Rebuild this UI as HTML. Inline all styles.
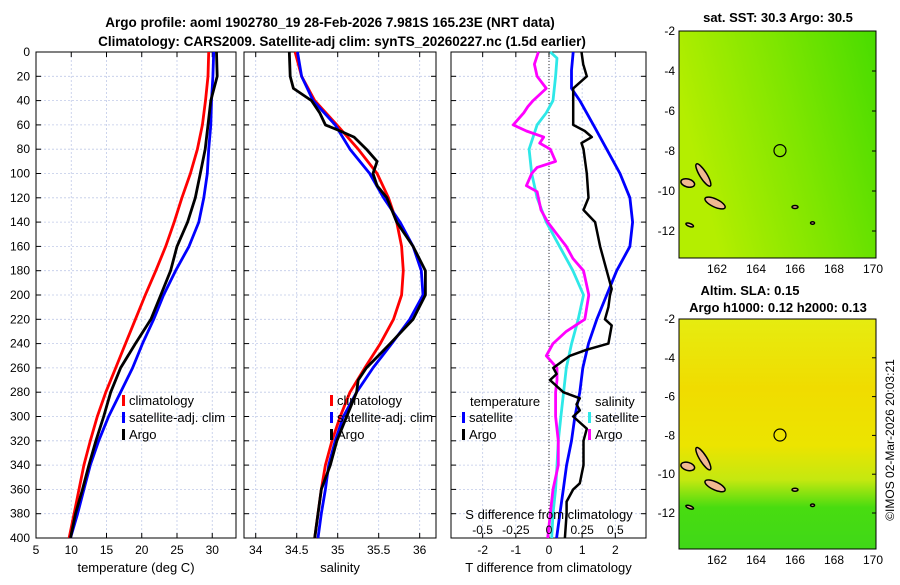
<!DOCTYPE html>
<html><head><meta charset="utf-8"><style>
body{margin:0;background:#fff;width:900px;height:580px;overflow:hidden}
svg{font-family:"Liberation Sans","DejaVu Sans",sans-serif}
</style></head><body>
<svg id="c" width="900" height="580" xmlns="http://www.w3.org/2000/svg">
<text x="330" y="27" font-size="13.5" font-weight="bold" text-anchor="middle">Argo profile: aoml 1902780_19 28-Feb-2026 7.981S 165.23E (NRT data)</text>
<text x="342" y="46" font-size="13.5" font-weight="bold" text-anchor="middle">Climatology: CARS2009. Satellite-adj clim: synTS_20260227.nc (1.5d earlier)</text>
<g id="maps"></g>
<text transform="translate(894,440) rotate(-90)" font-size="12" text-anchor="middle">©IMOS 02-Mar-2026 20:03:21</text>
</svg>
<script>
const depths=[0,20,40,60,80,100,120,140,160,180,200,220,240,260,280,300,320,340,360,380,400];
const tempClim=[29.5,29.4,29.05,28.6,27.9,26.9,25.7,24.6,23.4,22.0,20.5,19.1,17.7,16.3,14.9,13.7,12.7,11.8,11.1,10.4,9.7];
const tempSat=[30.2,30.1,29.9,29.8,29.5,29.3,28.8,28.1,26.7,24.8,23.1,21.7,20.1,18.7,17.0,15.3,13.9,12.7,11.8,10.9,9.9];
const tempArgo=[30.6,30.7,29.8,29.4,29.0,28.3,27.6,26.5,25.0,24.1,22.7,21.3,19.1,17.0,15.6,14.6,13.5,12.5,11.6,10.6,9.9];
const salClim=[34.48,34.56,34.72,34.99,35.25,35.48,35.62,35.72,35.78,35.8,35.78,35.68,35.52,35.33,35.15,35.03,34.93,34.85,34.8,34.76,34.72];
const salSat=[34.51,34.56,34.7,34.97,35.15,35.39,35.56,35.76,35.92,36.02,36.04,35.88,35.66,35.43,35.23,35.07,34.97,34.89,34.85,34.8,34.76];
const salArgoDepths=[0,20,30,40,50,60,65,70,80,90,100,110,120,140,160,180,200,220,240,260,270,280,300,320,340,360,380,400];
const salArgo=[34.41,34.42,34.46,34.68,34.78,34.85,35.03,35.2,35.35,35.48,35.43,35.48,35.6,35.72,35.92,36.07,36.07,35.92,35.64,35.35,35.25,35.23,35.11,34.99,34.91,34.8,34.76,34.72];
const dTDepths=[0,10,20,30,40,50,60,65,70,75,80,100,120,130,140,160,180,195,200,210,220,225,240,245,250,260,265,270,280,285,290,295,300,310,320,340,355,360,370,380,400];
const dTempArgo=[0.98,1.03,1.14,0.73,0.73,0.73,0.73,1.08,1.29,0.98,1.04,1.14,1.19,1.04,1.39,1.54,1.74,1.89,1.84,1.79,1.69,1.89,1.79,1.14,0.63,0.13,0.23,0.03,0.43,0.93,0.83,0.93,0.73,1.14,1.04,1.04,0.93,0.73,0.53,0.53,0.48];
const dTSatDepths=[0,15,30,40,60,80,100,120,140,160,180,200,220,240,260,280,300,320,340,360,380,400];
const dTempSat=[0.73,0.68,0.68,0.93,1.34,1.74,2.14,2.44,2.52,2.44,2.04,1.74,1.44,1.19,1.02,0.93,0.78,0.68,0.53,0.43,0.33,0.23];
const sSatDepths=[0,5,20,40,50,60,80,100,120,140,160,180,200,220,240,260,280,300,320,340,360,380,400];
const dSalSat=[0.01,0.06,0.05,0.03,-0.02,-0.09,-0.15,-0.13,-0.09,-0.02,0.08,0.18,0.26,0.22,0.17,0.13,0.11,0.09,0.07,0.06,0.05,0.03,0.02];
const sArgoDepths=[0,10,20,30,40,45,50,60,65,70,75,80,90,95,100,110,115,120,130,140,150,160,170,180,190,200,220,230,240,250,260,270,280,300,320,340,360,380,400];
const dSalArgo=[-0.08,-0.11,-0.09,-0.02,-0.12,-0.16,-0.19,-0.27,-0.17,-0.04,-0.07,0.01,0.05,-0.09,-0.13,-0.17,-0.09,-0.08,-0.06,-0.01,0.06,0.13,0.18,0.26,0.28,0.3,0.27,0.13,0.03,-0.02,0.06,0.06,0.05,0.05,0.07,0.07,0.03,0.01,-0.01];
const depthTicks=[0,20,40,60,80,100,120,140,160,180,200,220,240,260,280,300,320,340,360,380,400];
const tTicks=[5,10,15,20,25,30], sTicks=[34,34.5,35,35.5,36], dTicks=[-2,-1,0,1,2];
const sdTicks=[-0.5,-0.25,0,0.25,0.5], sdLabels=['-0.5','-0.25','0','0.25','0.5'];

const NS='http://www.w3.org/2000/svg', svg=document.getElementById('c');
function mk(t,a,p){const e=document.createElementNS(NS,t);for(const k in a)e.setAttribute(k,a[k]);(p||svg).appendChild(e);return e;}
const Y0=52,Y1=538; const yD=d=>Y0+d/400*(Y1-Y0);
function panel(x0,x1,xmin,xmax,ticks,labels,title,name){
  const g=mk('g',{});
  const xs=v=>x0+(v-xmin)/(xmax-xmin)*(x1-x0);
  depthTicks.forEach(d=>{const l=mk('line',{x1:x0,x2:x1,y1:yD(d),y2:yD(d),stroke:'#c0cae8','stroke-dasharray':'2,2','stroke-width':0.8},g);});
  ticks.forEach((v,i)=>{const l=mk('line',{x1:xs(v),x2:xs(v),y1:Y0,y2:Y1,stroke:'#c0cae8','stroke-dasharray':'2,2','stroke-width':0.8},g);
    mk('line',{x1:xs(v),x2:xs(v),y1:Y1,y2:Y1-5,stroke:'#000'},g);mk('line',{x1:xs(v),x2:xs(v),y1:Y0,y2:Y0+5,stroke:'#000'},g);
    const t=mk('text',{x:xs(v),y:Y1+16,'font-size':12,'text-anchor':'middle'},g);t.textContent=labels?labels[i]:v;});
  depthTicks.forEach(d=>{mk('line',{x1:x0,x2:x0+5,y1:yD(d),y2:yD(d),stroke:'#000'},g);mk('line',{x1:x1,x2:x1-5,y1:yD(d),y2:yD(d),stroke:'#000'},g);});
  const r=mk('rect',{x:x0,y:Y0,width:x1-x0,height:Y1-Y0,fill:'none',stroke:'#000'},g);
  const tt=mk('text',{x:(x0+x1)/2,y:572,'font-size':13,'text-anchor':'middle'},g);tt.textContent=title;
  return {g,xs};
}
function line(p,vals,ds,color,name,w){
  const pts=vals.map((v,i)=>p.xs(v).toFixed(1)+','+yD(ds[i]).toFixed(1)).join(' ');
  const l=mk('polyline',{points:pts,fill:'none',stroke:color,'stroke-width':w||2.8,'stroke-linejoin':'round'},p.g);
  
}
function leg(g,x,y,color,txt,name){mk('rect',{x:x,y:y-10,width:3,height:11,fill:color},g);const t=mk('text',{x:x+7,y:y,'font-size':13},g);t.textContent=txt;}

depthTicks.forEach(d=>{const t=mk('text',{x:30,y:yD(d)+4,'font-size':12,'text-anchor':'end'});t.textContent=d;});

const p1=panel(36,236,5,33.37,tTicks,null,'temperature (deg C)','temperature-panel');
line(p1,tempClim,depths,'#f00','temp-climatology-line');
line(p1,tempSat,depths,'#00f','temp-satellite-line');
line(p1,tempArgo,depths,'#000','temp-argo-line');
leg(p1.g,122,405,'#f00','climatology','legend-climatology');
leg(p1.g,122,422,'#00f','satellite-adj. clim','legend-satellite');
leg(p1.g,122,439,'#000','Argo','legend-argo');

const p2=panel(244,436,33.857,36.199,sTicks,null,'salinity','salinity-panel');
line(p2,salClim,depths,'#f00','sal-climatology-line');
line(p2,salSat,depths,'#00f','sal-satellite-line');
line(p2,salArgo,salArgoDepths,'#000','sal-argo-line');
leg(p2.g,330,405,'#f00','climatology','legend-climatology');
leg(p2.g,330,422,'#00f','satellite-adj. clim','legend-satellite');
leg(p2.g,330,439,'#000','Argo','legend-argo');

const p3=panel(451,646,-2.955,2.925,dTicks,null,'T difference from climatology','difference-panel');
mk('line',{x1:549,x2:549,y1:Y0,y2:Y1,stroke:'#333','stroke-dasharray':'1,2'},p3.g);
const xsS=v=>549+v*132.7;
const pS={g:p3.g,xs:xsS};
line(pS,dSalSat,sSatDepths,'#2ee8e8','sal-diff-satellite-line');
line(pS,dSalArgo,sArgoDepths,'#f0f','sal-diff-argo-line');
line(p3,dTempSat,dTSatDepths,'#00f','temp-diff-satellite-line');
line(p3,dTempArgo,dTDepths,'#000','temp-diff-argo-line',2.5);
[['temperature',470,406],['salinity',595,406]].forEach(a=>{const t=mk('text',{x:a[1],y:a[2],'font-size':13},p3.g);t.textContent=a[0];});
leg(p3.g,462,422,'#00f','satellite','legend-temp-satellite');
leg(p3.g,462,439,'#000','Argo','legend-temp-argo');
leg(p3.g,588,422,'#2ee8e8','satellite','legend-sal-satellite');
leg(p3.g,588,439,'#f0f','Argo','legend-sal-argo');
{const t=mk('text',{x:549,y:519,'font-size':13,'text-anchor':'middle'},p3.g);t.textContent='S difference from climatology';}
sdTicks.forEach((v,i)=>{const t=mk('text',{x:xsS(v),y:534,'font-size':12,'text-anchor':'middle'},p3.g);t.textContent=sdLabels[i];});

// maps
const mg=document.getElementById('maps');
const defs=mk('defs',{},mg);
defs.innerHTML='<linearGradient id="g1" x1="0" y1="0.3" x2="1" y2="0"><stop offset="0" stop-color="#b4ee00"/><stop offset="0.5" stop-color="#80e600"/><stop offset="1" stop-color="#48dc00"/></linearGradient>'+
'<linearGradient id="g2" x1="0" y1="0" x2="0" y2="1"><stop offset="0" stop-color="#e6ec10"/><stop offset="0.3" stop-color="#f0dc00"/><stop offset="0.55" stop-color="#ece400"/><stop offset="0.7" stop-color="#c4e810"/><stop offset="0.82" stop-color="#48dc10"/><stop offset="1" stop-color="#40d818"/></linearGradient>';
function map(y0,y1,fill,latPx,title,name){
  const x0=679,x1=876,g=mk('g',{},mg);
  mk('rect',{x:x0,y:y0,width:x1-x0,height:y1-y0,fill:fill},g);
  const lon=v=>717+(v-162)*19.5, lat=v=>y0+(-2-v)*latPx;
  const isl=[[161.3,-9.2,13,3.5,58],[160.5,-9.6,7,4,15],[161.9,-10.6,11,4,25],[160.6,-11.7,4,1.5,20],[166,-10.8,3,1.5,0],[166.9,-11.6,2,1.2,0]];
  isl.forEach(a=>{const e=mk('ellipse',{cx:lon(a[0]),cy:lat(a[1]),rx:a[2],ry:a[3],fill:'#f0b890',stroke:'#000','stroke-width':1.5,transform:'rotate('+a[4]+' '+lon(a[0])+' '+lat(a[1])+')'},g);});
  const c=mk('circle',{cx:lon(165.23),cy:lat(-7.98),r:6,fill:'none',stroke:'#000','stroke-width':1.2},g);
  mk('rect',{x:x0,y:y0,width:x1-x0,height:y1-y0,fill:'none',stroke:'#000'},g);
  [-2,-4,-6,-8,-10,-12].forEach(v=>{const t=mk('text',{x:675,y:lat(v)+4,'font-size':12,'text-anchor':'end'},g);t.textContent=v;mk('line',{x1:x1,x2:x1-4,y1:lat(v),y2:lat(v),stroke:'#000'},g);});
  [162,164,166,168,170].forEach(v=>{const t=mk('text',{x:lon(v),y:y1+15,'font-size':12,'text-anchor':'middle'},g);t.textContent=v;});
  title.forEach((s,i)=>{const t=mk('text',{x:s[1],y:s[2],'font-size':13,'font-weight':'bold','text-anchor':'middle'},g);t.textContent=s[0];});
}
map(31,258,'url(#g1)',20,[['sat. SST: 30.3 Argo: 30.5',778,22]],'sst-map');
map(319,549,'url(#g2)',19.4,[['Altim. SLA: 0.15',750,295],['Argo h1000: 0.12 h2000: 0.13',778,312]],'sla-map');
</script>
</body></html>
